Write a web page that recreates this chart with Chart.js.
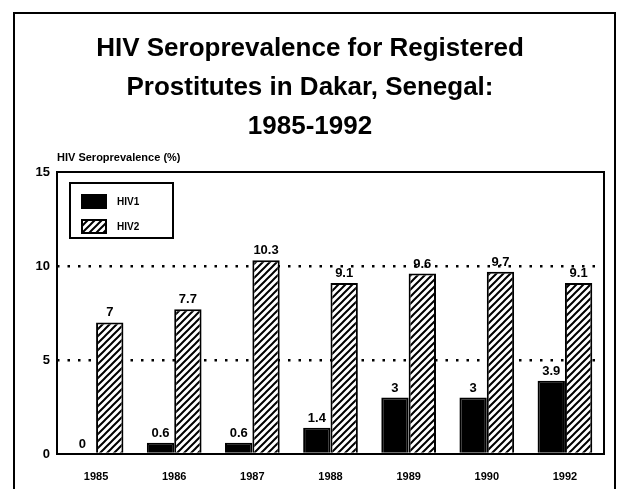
<!DOCTYPE html>
<html>
<head>
<meta charset="utf-8">
<script src="https://cdn.jsdelivr.net/npm/chart.js@4"></script>
<style>
    html, body { margin: 0; padding: 0; background: #fff; }
    #wrap { position: relative; width: 618px; height: 489px; }
    #frame {
        position: absolute; left: 13px; top: 12px; width: 599px; height: 490px;
        border: 2px solid #000; border-bottom: none; pointer-events: none;
    }
</style>
</head>
<body>
<div id="wrap">
    <canvas id="chart" width="618" height="489"></canvas>
    <div id="frame"></div>
</div>
<script>
const years = ['1985', '1986', '1987', '1988', '1989', '1990', '1992'];
const hiv1 = [0, 0.6, 0.6, 1.4, 3, 3, 3.9];
const hiv2 = [7, 7.7, 10.3, 9.1, 9.6, 9.7, 9.1];
const yTicks = [0, 5, 10, 15];
const titleLines = ['HIV Seroprevalence for Registered', 'Prostitutes in Dakar, Senegal:', '1985-1992'];
const yTitle = 'HIV Seroprevalence (%)';

const FONT = "'Liberation Sans', Arial, sans-serif";

// diagonal "/" hatching for HIV2 bars
function makeHatch() {
    const size = 7;
    const c = document.createElement('canvas');
    c.width = size;
    c.height = size;
    const g = c.getContext('2d');
    g.fillStyle = '#fff';
    g.fillRect(0, 0, size, size);
    g.strokeStyle = '#000';
    g.lineWidth = 2;
    g.beginPath();
    g.moveTo(-1, size + 1);
    g.lineTo(size + 1, -1);
    g.moveTo(-1, 1);
    g.lineTo(1, -1);
    g.moveTo(size - 1, size + 1);
    g.lineTo(size + 1, size - 1);
    g.stroke();
    return g.createPattern(c, 'repeat');
}
const hatch = makeHatch();

// frame round the plot, value labels, y title and the boxed legend
const decorations = {
    id: 'decorations',
    afterDatasetsDraw(chart) {
        const ctx = chart.ctx;
        const area = chart.chartArea;
        ctx.save();

        ctx.strokeStyle = '#000';
        ctx.lineWidth = 2;
        ctx.strokeRect(area.left, area.top, area.right - area.left, area.bottom - area.top);

        ctx.fillStyle = '#000';
        ctx.font = 'bold 13px ' + FONT;
        ctx.textAlign = 'center';
        ctx.textBaseline = 'alphabetic';
        chart.data.datasets.forEach((ds, i) => {
            chart.getDatasetMeta(i).data.forEach((bar, j) => {
                ctx.fillText(String(ds.data[j]), bar.x, bar.y - 6);
            });
        });

        ctx.font = 'bold 11px ' + FONT;
        ctx.textAlign = 'left';
        ctx.textBaseline = 'middle';
        ctx.fillText(yTitle, 57, 158);

        // legend
        const lx = area.left + 13, ly = area.top + 11;
        ctx.lineWidth = 2;
        ctx.strokeRect(lx, ly, 103, 55);
        chart.data.datasets.forEach((ds, i) => {
            const sy = ly + 12 + i * 25;
            ctx.fillStyle = ds.backgroundColor;
            ctx.fillRect(lx + 12, sy, 24, 13);
            ctx.strokeRect(lx + 12, sy, 24, 13);
            ctx.fillStyle = '#000';
            ctx.font = 'bold 10px ' + FONT;
            ctx.fillText(ds.label, lx + 47, sy + 7);
        });
        ctx.restore();
    }
};

new Chart(document.getElementById('chart'), {
    type: 'bar',
    data: {
        labels: years,
        datasets: [{
            label: 'HIV1',
            data: hiv1,
            backgroundColor: '#000',
            borderColor: '#000',
            borderWidth: 2
        }, {
            label: 'HIV2',
            data: hiv2,
            backgroundColor: hatch,
            borderColor: '#000',
            borderWidth: 2
        }]
    },
    options: {
        responsive: false,
        animation: false,
        layout: { padding: { left: 16, right: 14, top: 0, bottom: 0 } },
        categoryPercentage: 0.7,
        barPercentage: 1,
        plugins: {
            legend: { display: false },
            tooltip: { enabled: false },
            title: {
                display: true,
                text: titleLines,
                color: '#000',
                font: { family: FONT, size: 26, weight: 'bold', lineHeight: 1.5 },
                padding: { top: 29, bottom: 26 }
            }
        },
        scales: {
            x: {
                grid: { display: false },
                border: { display: false },
                ticks: {
                    color: '#000',
                    font: { family: FONT, size: 11, weight: 'bold' },
                    padding: 8
                },
                afterFit(scale) { scale.height = 35; }
            },
            y: {
                min: 0,
                max: 15,
                afterBuildTicks(scale) { scale.ticks = yTicks.map(v => ({ value: v })); },
                border: { display: false, dash: [2.5, 8] },
                grid: {
                    drawTicks: false,
                    color: ctx => (ctx.tick.value === 5 || ctx.tick.value === 10) ? '#000' : 'rgba(0,0,0,0)',
                    lineWidth: 2.5
                },
                ticks: {
                    color: '#000',
                    font: { family: FONT, size: 13, weight: 'bold' },
                    padding: 7
                },
                afterFit(scale) { scale.width = 41; }
            }
        }
    },
    plugins: [decorations]
});
</script>
</body>
</html>
